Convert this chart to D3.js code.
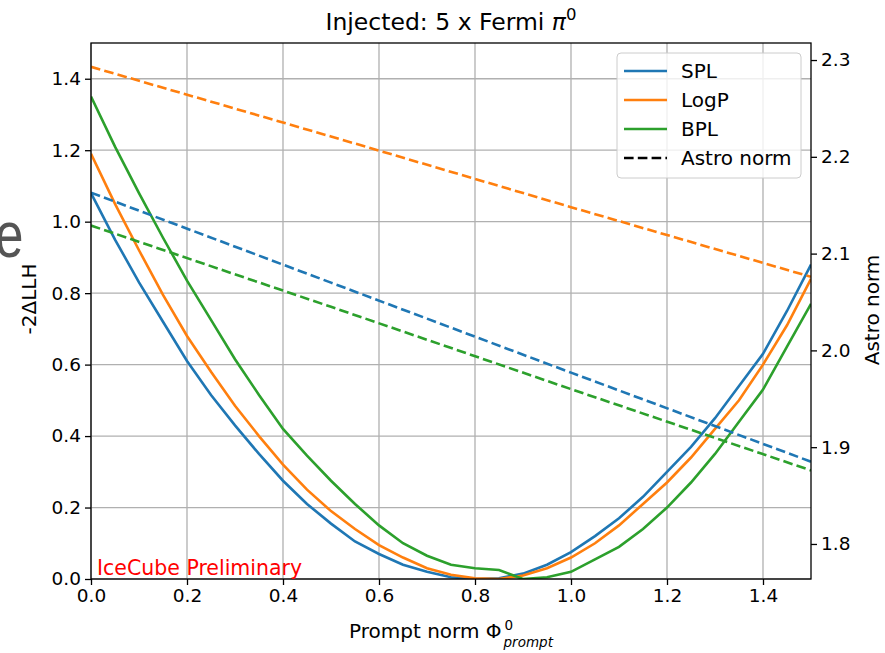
<!DOCTYPE html>
<html lang="en">
<head>
    <meta charset="UTF-8">
    <title>Injected: 5 x Fermi pi0</title>
    <script src="https://d3js.org/d3.v7.min.js"></script>
    <style>
        body {
            margin: 0;
            background-color: #fff;
        }

        svg text {
            font-family: "DejaVu Sans", sans-serif;
            fill: #000;
        }

        .grid line {
            stroke: #b0b0b0;
            stroke-width: 1.3px;
        }

        .axis path,
        .axis line {
            stroke: #000;
            stroke-width: 1.3px;
        }

        .axis text {
            font-size: 18.5px;
        }

        .llh {
            fill: none;
            stroke-width: 2.6px;
        }

        .astro {
            fill: none;
            stroke-width: 2.6px;
            stroke-dasharray: 9.6 4.2;
        }
    </style>
</head>
<body>
    <script>
        // prompt norm sampling points
        const promptNorm = [0.00, 0.05, 0.10, 0.15, 0.20, 0.25, 0.30, 0.35, 0.40, 0.45,
                            0.50, 0.55, 0.60, 0.65, 0.70, 0.75, 0.80, 0.85, 0.90, 0.95,
                            1.00, 1.05, 1.10, 1.15, 1.20, 1.25, 1.30, 1.35, 1.40, 1.45, 1.50];

        // -2 delta LLH for each spectral model
        const llhSPL  = [1.08, 0.95, 0.83, 0.72, 0.61, 0.515, 0.43, 0.35, 0.275, 0.21,
                         0.155, 0.105, 0.07, 0.04, 0.02, 0.005, 0.0, 0.002, 0.015, 0.04,
                         0.075, 0.12, 0.17, 0.23, 0.30, 0.37, 0.45, 0.54, 0.63, 0.75, 0.88];
        const llhLogP = [1.19, 1.05, 0.92, 0.795, 0.68, 0.58, 0.485, 0.40, 0.32, 0.25,
                         0.19, 0.14, 0.095, 0.06, 0.03, 0.012, 0.002, 0.0, 0.01, 0.03,
                         0.06, 0.10, 0.15, 0.21, 0.27, 0.34, 0.42, 0.50, 0.60, 0.71, 0.84];
        const llhBPL  = [1.35, 1.21, 1.08, 0.955, 0.835, 0.725, 0.615, 0.515, 0.42, 0.345,
                         0.275, 0.21, 0.15, 0.10, 0.065, 0.04, 0.03, 0.025, 0.0, 0.005,
                         0.02, 0.055, 0.09, 0.14, 0.20, 0.27, 0.35, 0.44, 0.53, 0.65, 0.77];

        // astro norm (right axis)
        const astroX    = [0.0, 0.5, 1.0, 1.5];
        const astroSPL  = [2.163, 2.070, 1.977, 1.885];
        const astroLogP = [2.293, 2.221, 2.148, 2.076];
        const astroBPL  = [2.129, 2.045, 1.960, 1.876];

        const models = ["SPL", "LogP", "BPL"];
        const colors = ["#1f77b4", "#ff7f0e", "#2ca02c"];

        const xTicks = [0.0, 0.2, 0.4, 0.6, 0.8, 1.0, 1.2, 1.4];
        const yTicks = [0.0, 0.2, 0.4, 0.6, 0.8, 1.0, 1.2, 1.4];
        const y2Ticks = [1.8, 1.9, 2.0, 2.1, 2.2, 2.3];

        const width = 885, height = 653;
        const margin = {top: 43, right: 74, bottom: 74, left: 91};

        const svg = d3.select("body").append("svg")
            .attr("width", width)
            .attr("height", height);

        const x = d3.scaleLinear().domain([0, 1.5]).range([margin.left, width - margin.right]);
        const y = d3.scaleLinear().domain([0, 1.5]).range([height - margin.bottom, margin.top]);
        const y2 = d3.scaleLinear().domain([1.7638, 2.3176]).range([height - margin.bottom, margin.top]);

        // leftover letter at the slide edge
        svg.append("text")
            .attr("transform", "translate(-5,257) scale(0.8,1)")
            .style("font-family", "'Liberation Sans', sans-serif")
            .style("font-size", "64px")
            .style("fill", "#555")
            .text("e");

        // grid
        const grid = svg.append("g").attr("class", "grid");
        grid.selectAll(".gx").data(xTicks).enter().append("line")
            .attr("x1", d => x(d)).attr("x2", d => x(d))
            .attr("y1", y(0)).attr("y2", y(1.5));
        grid.selectAll(".gy").data(yTicks).enter().append("line")
            .attr("x1", x(0)).attr("x2", x(1.5))
            .attr("y1", d => y(d)).attr("y2", d => y(d));

        svg.append("clipPath").attr("id", "clip")
            .append("rect")
            .attr("x", x(0)).attr("y", y(1.5))
            .attr("width", x(1.5) - x(0)).attr("height", y(0) - y(1.5));

        const plot = svg.append("g").attr("clip-path", "url(#clip)");

        const llhSeries = [llhSPL, llhLogP, llhBPL];
        const astroSeries = [astroSPL, astroLogP, astroBPL];

        const llhLine = d3.line().x((d, i) => x(promptNorm[i])).y(d => y(d));
        const astroLine = d3.line().x((d, i) => x(astroX[i])).y(d => y2(d));

        llhSeries.forEach((s, k) => {
            plot.append("path")
                .attr("class", "llh")
                .attr("stroke", colors[k])
                .attr("d", llhLine(s));
        });
        astroSeries.forEach((s, k) => {
            plot.append("path")
                .attr("class", "astro")
                .attr("stroke", colors[k])
                .attr("d", astroLine(s));
        });

        // axes
        svg.append("g")
            .attr("class", "axis")
            .attr("transform", `translate(0,${y(0)})`)
            .call(d3.axisBottom(x).tickValues(xTicks).tickFormat(d3.format(".1f")).tickSize(6).tickPadding(4));
        svg.append("g")
            .attr("class", "axis")
            .attr("transform", `translate(${x(0)},0)`)
            .call(d3.axisLeft(y).tickValues(yTicks).tickFormat(d3.format(".1f")).tickSize(6).tickPadding(4));
        svg.append("g")
            .attr("class", "axis")
            .attr("transform", `translate(${x(1.5)},0)`)
            .call(d3.axisRight(y2).tickValues(y2Ticks).tickFormat(d3.format(".1f")).tickSize(6).tickPadding(4));
        svg.selectAll(".axis .domain").remove();

        svg.append("rect")
            .attr("x", x(0)).attr("y", y(1.5))
            .attr("width", x(1.5) - x(0)).attr("height", y(0) - y(1.5))
            .attr("fill", "none")
            .attr("stroke", "#000")
            .attr("stroke-width", 1.3);

        // title
        const title = svg.append("text")
            .attr("x", (x(0) + x(1.5)) / 2)
            .attr("y", 30)
            .attr("text-anchor", "middle")
            .style("font-size", "23.5px");
        title.append("tspan").text("Injected: 5 x Fermi ");
        title.append("tspan").style("font-style", "italic").text("π");
        title.append("tspan").attr("dy", -10).style("font-size", "16.5px").text("0");

        // x label with stacked super/subscript
        const xl = svg.append("g");
        const xlMain = xl.append("text")
            .attr("x", 0).attr("y", 638)
            .style("font-size", "20px")
            .text("Prompt norm Φ");
        const mainW = xlMain.node().getComputedTextLength();
        xl.append("text")
            .attr("x", mainW + 3).attr("y", 630)
            .style("font-size", "13.5px")
            .text("0");
        const sub = xl.append("text")
            .attr("x", mainW + 2).attr("y", 647)
            .style("font-size", "13.5px")
            .style("font-style", "italic")
            .text("prompt");
        const totalW = mainW + 2 + sub.node().getComputedTextLength();
        xl.attr("transform", `translate(${(x(0) + x(1.5)) / 2 - totalW / 2},0)`);

        // y labels
        svg.append("text")
            .attr("transform", `translate(36,299) rotate(-90)`)
            .attr("text-anchor", "middle")
            .style("font-size", "20px")
            .text("-2ΔLLH");
        svg.append("text")
            .attr("transform", `translate(879,310) rotate(-90)`)
            .attr("text-anchor", "middle")
            .style("font-size", "20px")
            .text("Astro norm");

        // watermark
        svg.append("text")
            .attr("x", 97).attr("y", 575)
            .style("font-size", "20.5px")
            .style("fill", "#f00")
            .text("IceCube Preliminary");

        // legend
        const legend = svg.append("g").attr("transform", "translate(617,53)");
        legend.append("rect")
            .attr("width", 184).attr("height", 125)
            .attr("rx", 4)
            .attr("fill", "#fff").attr("fill-opacity", 0.8)
            .attr("stroke", "#ccc");
        const entries = models.map((m, k) => ({label: m, color: colors[k], dash: null}))
            .concat([{label: "Astro norm", color: "#000", dash: "9.6 4.2"}]);
        entries.forEach((e, i) => {
            const ly = 18 + i * 29;
            legend.append("line")
                .attr("x1", 7).attr("x2", 50)
                .attr("y1", ly).attr("y2", ly)
                .attr("stroke", e.color)
                .attr("stroke-width", 2.6)
                .attr("stroke-dasharray", e.dash);
            legend.append("text")
                .attr("x", 64).attr("y", ly + 7)
                .style("font-size", "20px")
                .text(e.label);
        });
    </script>
</body>
</html>
